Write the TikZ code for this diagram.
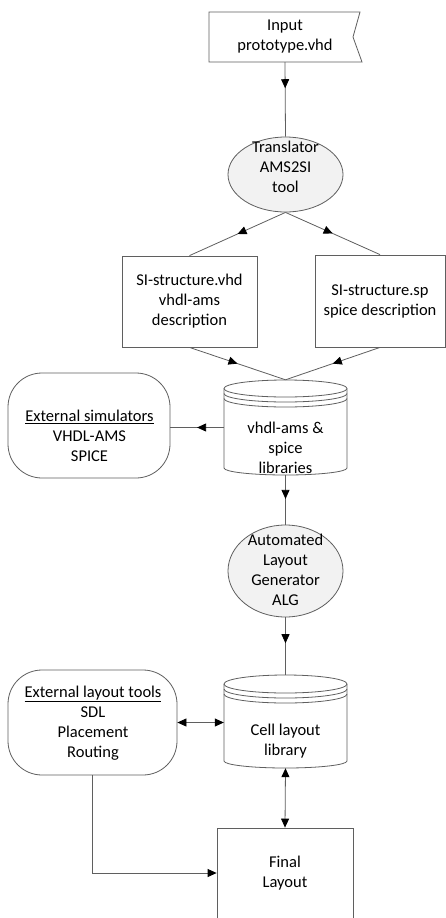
\documentclass[tikz,border=0pt]{standalone}
\usepackage{fontspec}
\setmainfont{Carlito}
\usetikzlibrary{arrows.meta,decorations.markings,shapes.geometric}
\definecolor{ln}{RGB}{95,95,95}
\definecolor{elfill}{RGB}{242,242,242}
\tikzset{
  base/.style={draw=ln, line width=0.8pt},
  txt/.style={align=center, font=\fontsize{16.5}{20}\selectfont, inner sep=0pt},
  boxnode/.style={base, fill=white, rectangle, txt},
  ellnode/.style={base, fill=elfill, ellipse, inner sep=0pt},
  holder/.style={rectangle, inner sep=0pt},
  conn/.style={draw=ln, line width=0.8pt},
  midarr/.style={postaction={decorate}, decoration={markings, mark=at position #1 with {\arrow{Triangle[length=9pt,width=8pt,color=black,fill=black]}}}},
  endarr/.style={-{Triangle[length=9pt,width=8pt,color=black,fill=black]}},
  bothar/.style={{Triangle[length=9pt,width=8pt,color=black,fill=black]}-{Triangle[length=9pt,width=8pt,color=black,fill=black]}},
  roundbox/.style={base, fill=white, rectangle, rounded corners=34pt},
}
\begin{document}
\begin{tikzpicture}[x=1pt,y=-1pt]
\useasboundingbox (0,0) rectangle (446,918);
\fill[white] (0,0) rectangle (446,918);

% Input (flag shape)
\filldraw[base, fill=white] (209,12) -- (360,12) -- (353,37) -- (362,62) -- (209,62) -- cycle;
\node[txt, holder, minimum width=151pt, minimum height=50pt] (input) at (285,37) {Input\\prototype.vhd};

% Translator
\node[ellnode, minimum width=115pt, minimum height=75pt] (trans) at (285.5,174.5) {};
\node[txt] (transtxt) at (285.5,167) {Translator\\AMS2SI\\tool};

% SI boxes
\node[boxnode, minimum width=135pt, minimum height=91pt] (sivhd) at (189.5,301.5) {SI-structure.vhd\\vhdl-ams\\description};
\node[boxnode, minimum width=130pt, minimum height=92pt] (sisp) at (380,301) {SI-structure.sp\\spice description};

% Cylinder 1: libraries
\node[holder, minimum width=123pt, minimum height=95pt] (lib) at (285.5,427.5) {};
\filldraw[base, fill=white] (224,388.5) -- (224,468)
  arc[start angle=180, end angle=0, x radius=61.5, y radius=7] -- (347,388.5)
  arc[start angle=0, end angle=-180, x radius=61.5, y radius=8.5] -- cycle;
\draw[base] (224,388.5) arc[start angle=180, end angle=0, x radius=61.5, y radius=8.5];
\draw[base] (224,393.5) arc[start angle=180, end angle=0, x radius=61.5, y radius=8.5];
\draw[base] (224,398.5) arc[start angle=180, end angle=0, x radius=61.5, y radius=8.5];
\node[txt] (libtxt) at (285.5,448) {vhdl-ams \&\\spice\\libraries};

% External simulators
\node[roundbox, minimum width=162pt, minimum height=105pt] (extsim) at (89,425.5) {};
\node[txt] (extsimtxt) at (89.5,436) {\underline{External simulators}\\VHDL-AMS\\SPICE};

% ALG
\node[ellnode, minimum width=115pt, minimum height=92pt] (alg) at (285.5,571) {};
\node[txt] (algtxt) at (285.5,570) {Automated\\Layout\\Generator\\ALG};

% Cylinder 2: cell layout library
\node[holder, minimum width=123pt, minimum height=93pt] (cell) at (285.5,721.5) {};
\filldraw[base, fill=white] (224,684) -- (224,761)
  arc[start angle=180, end angle=0, x radius=61.5, y radius=7] -- (347,684)
  arc[start angle=0, end angle=-180, x radius=61.5, y radius=9] -- cycle;
\draw[base] (224,684) arc[start angle=180, end angle=0, x radius=61.5, y radius=9];
\draw[base] (224,689) arc[start angle=180, end angle=0, x radius=61.5, y radius=9];
\draw[base] (224,694) arc[start angle=180, end angle=0, x radius=61.5, y radius=9];
\node[txt] (celltxt) at (285.5,741) {Cell layout\\library};

% External layout tools
\node[roundbox, minimum width=169pt, minimum height=105pt] (extlay) at (92.5,722.5) {};
\node[txt] (extlaytxt) at (93,723) {\underline{External layout tools}\\SDL\\Placement\\Routing};

% Final layout (runs off the bottom edge)
\node[boxnode, minimum width=136pt, minimum height=102pt] (final) at (285,879) {};
\node[txt] (finaltxt) at (285,873) {Final\\Layout};

% Connectors
\draw[conn, midarr=0.35] (input.south) -- (trans.north);
\draw[conn, midarr=0.5] (trans.south) -- (sivhd.north);
\draw[conn, midarr=0.5] (trans.south) -- (sisp.north);
\draw[conn, midarr=0.5] (sivhd.south) -- (lib.north);
\draw[conn, midarr=0.5] (sisp.south) -- (lib.north);
\draw[conn, midarr=0.5] (lib.west) -- (lib.west -| extsim.east);
\draw[conn, midarr=0.48] (lib.south) -- (alg.north);
\draw[conn, midarr=0.45] (alg.south) -- (cell.north);
\draw[conn, bothar] (extlay.east) -- (extlay.east -| cell.west);
\draw[conn, bothar] (cell.south) -- (final.north);
\draw[conn, endarr] (extlay.south) |- (final.west |- finaltxt.center);
\end{tikzpicture}
\end{document}
